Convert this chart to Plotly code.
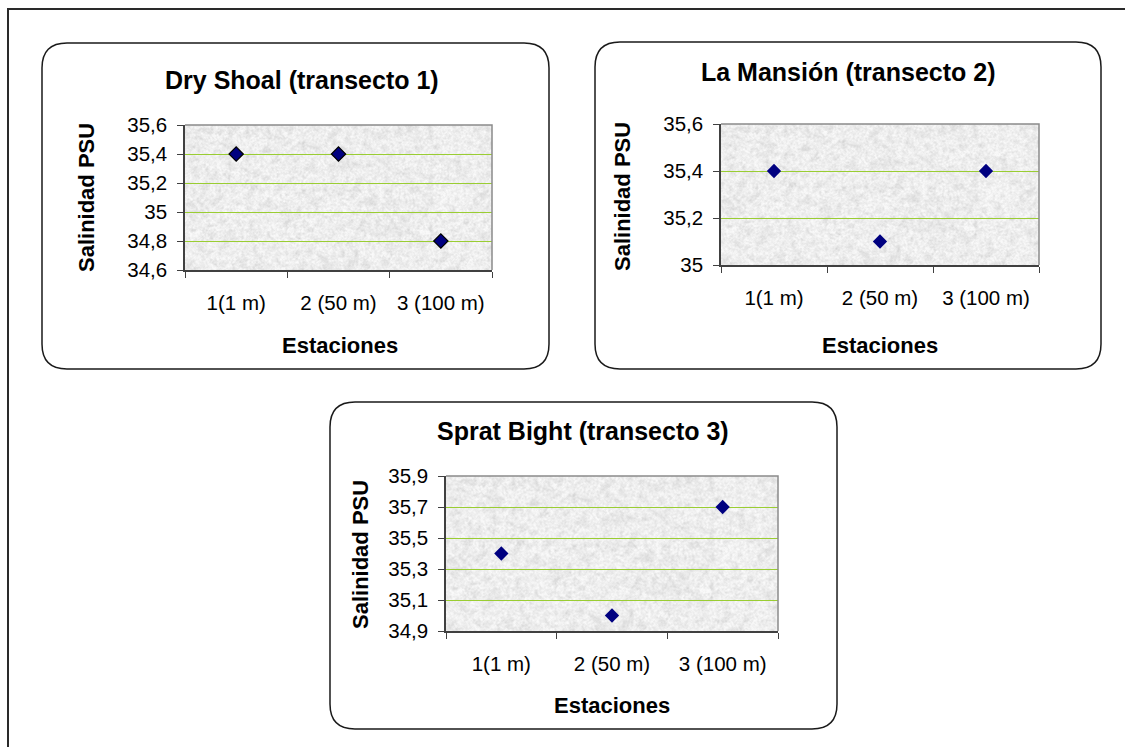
import base64, struct, zlib
import numpy as np
import plotly.graph_objects as go

W, H = 1125, 747

# ---------------- data ----------------
estaciones = ["1(1 m)", "2 (50 m)", "3 (100 m)"]
sal_t1 = [35.4, 35.4, 34.8]
sal_t2 = [35.4, 35.1, 35.4]
sal_t3 = [35.4, 35.0, 35.7]
titulos = ["Dry Shoal (transecto 1)", "La Mansión (transecto 2)", "Sprat Bight (transecto 3)"]
y_ranges = [(34.6, 35.6, 0.2), (35.0, 35.6, 0.2), (34.9, 35.9, 0.2)]

# ---------------- layout geometry (pixels) ----------------
boxes = [(42, 43, 549, 369), (595, 42, 1101, 369), (330, 402, 837, 729)]
plots = [(185, 125, 492, 270), (721, 124, 1039, 265), (446, 476, 778, 631)]
title_pos = [(302, 80), (848, 72), (583, 431)]
xt_pos = [(340, 345), (880, 345), (612, 705)]
yt_pos = [(87, 198), (623, 197), (360, 555)]


def px(x):
    return x / W


def py(y):
    return 1 - y / H


# ---------------- granite-like texture (deterministic hash) ----------------
def texture_png(w=420, h=200):
    jj, ii = np.meshgrid(np.arange(w), np.arange(h))
    def hsh(a, b):
        v = np.sin(a * 12.9898 + b * 78.233) * 43758.5453
        return v - np.floor(v)
    fine = hsh(jj, ii)
    blur = sum(np.roll(np.roll(fine, dx, 1), dy, 0) for dx in (-1, 0, 1) for dy in (-1, 0, 1)) / 9
    cs = 6
    cg = hsh(np.arange(w // cs + 2)[None, :] * 1.0 + 0.37, np.arange(h // cs + 2)[:, None] * 1.0 + 0.71)
    fx = (jj % cs) / cs
    fy = (ii % cs) / cs
    gx = jj // cs
    gy = ii // cs
    c = (cg[gy, gx] * (1 - fx) * (1 - fy) + cg[gy, gx + 1] * fx * (1 - fy)
         + cg[gy + 1, gx] * (1 - fx) * fy + cg[gy + 1, gx + 1] * fx * fy)
    val = 252 - 40 * np.clip(blur - 0.35, 0, 1) - 30 * np.clip(c - 0.45, 0, 1) - 10 * fine
    img = np.clip(val, 190, 255).astype(np.uint8)
    raw = b"".join(b"\x00" + img[r].tobytes() for r in range(h))

    def chunk(t, d):
        return struct.pack(">I", len(d)) + t + d + struct.pack(">I", zlib.crc32(t + d) & 0xFFFFFFFF)
    png = (b"\x89PNG\r\n\x1a\n" + chunk(b"IHDR", struct.pack(">IIBBBBB", w, h, 8, 0, 0, 0, 0))
           + chunk(b"IDAT", zlib.compress(raw, 9)) + chunk(b"IEND", b""))
    return "data:image/png;base64," + base64.b64encode(png).decode()


tex = texture_png()

FONT = "Liberation Sans, Arial, sans-serif"
fig = go.Figure()
series = [sal_t1, sal_t2, sal_t3]
shapes, annotations, images = [], [], []

# outer frame (cut off at right and bottom)
shapes.append(dict(type="path", xref="paper", yref="paper",
                   path=f"M {px(8)},{py(747)} L {px(8)},{py(9)} L {px(1125)},{py(9)}",
                   line=dict(color="#2a2a2a", width=2)))


def rounded(x0, y0, x1, y1, r):
    pts = [("M", [(x0 + r, y0)]), ("L", [(x1 - r, y0)]), ("Q", [(x1, y0), (x1, y0 + r)]),
           ("L", [(x1, y1 - r)]), ("Q", [(x1, y1), (x1 - r, y1)]), ("L", [(x0 + r, y1)]),
           ("Q", [(x0, y1), (x0, y1 - r)]), ("L", [(x0, y0 + r)]), ("Q", [(x0, y0), (x0 + r, y0)])]
    s = ""
    for cmd, ps in pts:
        s += cmd + " " + " ".join(f"{px(a):.5f},{py(b):.5f}" for a, b in ps) + " "
    return s + "Z"


for k in range(3):
    n = "" if k == 0 else str(k + 1)
    xa, ya = "x" + n, "y" + n
    bx0, by0, bx1, by1 = boxes[k]
    shapes.append(dict(type="path", xref="paper", yref="paper", path=rounded(bx0, by0, bx1, by1, 25),
                       line=dict(color="#1a1a1a", width=1.5), layer="below"))
    x0, y0, x1, y1 = plots[k]
    lo, hi, dt = y_ranges[k]
    fig.add_trace(go.Scatter(
        x=estaciones, y=series[k], mode="markers", xaxis=xa, yaxis=ya, showlegend=False,
        marker=dict(symbol="diamond", size=11, color="#000080",
                    line=dict(color="#000000" if k == 0 else "#000080", width=1.2 if k == 0 else 0)),
        cliponaxis=False))
    fig.update_layout(**{
        ("xaxis" + n): dict(domain=[px(x0), px(x1)], anchor=ya, type="category",
                            categoryorder="array", categoryarray=estaciones,
                            range=[-0.5, 2.5], tickson="boundaries", ticks="outside", ticklen=6,
                            tickcolor="#404040", showline=True, linecolor="#404040", linewidth=1.5,
                            showgrid=False, zeroline=False, ticklabelstandoff=14, automargin=False,
                            tickfont=dict(family=FONT, size=20.5, color="#000")),
        ("yaxis" + n): dict(domain=[py(y1), py(y0)], anchor=xa, range=[lo, hi], tick0=lo, dtick=dt,
                            ticks="outside", ticklen=6, tickcolor="#404040", showline=True,
                            linecolor="#404040", linewidth=1.5, showgrid=True, gridcolor="#9acd32",
                            gridwidth=1.4, zeroline=False, ticklabelstandoff=6, automargin=False,
                            tickfont=dict(family=FONT, size=20.5, color="#000")),
    })
    images.append(dict(source=tex, xref="paper", yref="paper", x=px(x0), y=py(y0),
                       sizex=px(x1) - px(x0), sizey=py(y0) - py(y1), xanchor="left", yanchor="top",
                       sizing="stretch", layer="below"))
    # top / right gray border
    shapes.append(dict(type="path", xref="paper", yref="paper",
                       path=f"M {px(x0)},{py(y0)} L {px(x1)},{py(y0)} L {px(x1)},{py(y1)}",
                       line=dict(color="#8a8a8a", width=1.5)))
    tx, ty = title_pos[k]
    annotations.append(dict(text="<b>" + titulos[k] + "</b>", xref="paper", yref="paper",
                            x=px(tx), y=py(ty), showarrow=False, xanchor="center", yanchor="middle",
                            font=dict(family=FONT, size=25, color="#000")))
    ex, ey = xt_pos[k]
    annotations.append(dict(text="<b>Estaciones</b>", xref="paper", yref="paper", x=px(ex), y=py(ey),
                            showarrow=False, xanchor="center", yanchor="middle",
                            font=dict(family=FONT, size=22, color="#000")))
    sx, sy = yt_pos[k]
    annotations.append(dict(text="<b>Salinidad PSU</b>", xref="paper", yref="paper", x=px(sx), y=py(sy),
                            showarrow=False, xanchor="center", yanchor="middle", textangle=-90,
                            font=dict(family=FONT, size=22, color="#000")))

fig.update_layout(width=W, height=H, autosize=False,
                  margin=dict(l=0, r=0, t=0, b=0, pad=0, autoexpand=False),
                  paper_bgcolor="white", plot_bgcolor="#e6e6e6", separators=", ",
                  shapes=shapes, annotations=annotations, images=images,
                  font=dict(family=FONT))

fig.write_html("out.html")
